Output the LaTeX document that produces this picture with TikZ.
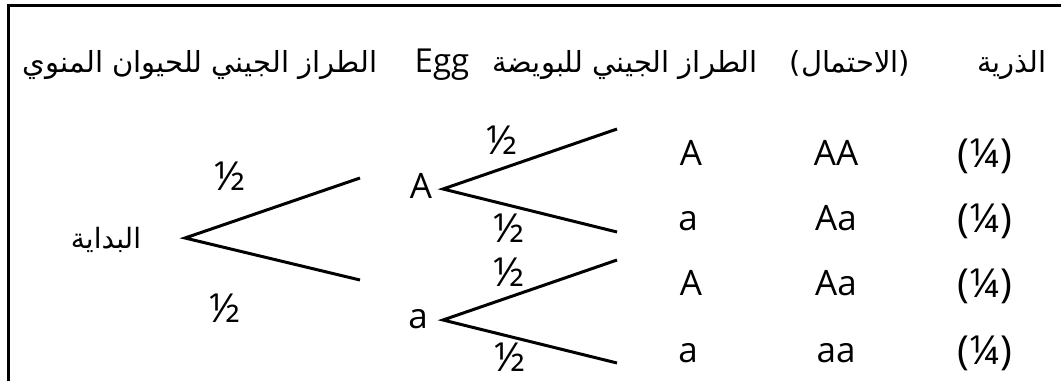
\documentclass[tikz,border=0pt]{standalone}
\usepackage{fontspec}
\setmainfont{Open Sans}
\newfontfamily\arabicfont[Script=Arabic]{DejaVu Sans}
\TeXXeTstate=1

\begin{document}
\begin{tikzpicture}[
    x=1pt, y=-1pt,
    frame/.style={line width=3pt},
    branch/.style={line width=3pt},
    head/.style={
        inner sep=0pt,
        anchor=base,
        font=\fontsize{29}{34}\selectfont\arabicfont
    },
    allele/.style={
        inner sep=0pt,
        anchor=base,
        font=\fontsize{35}{40}\selectfont
    },
    half/.style={
        inner sep=0pt,
        font=\fontsize{40}{46}\selectfont
    },
    ratio/.style={
        inner sep=0pt,
        anchor=base,
        font=\fontsize{40}{46}\selectfont
    }
]
\useasboundingbox (0,0) rectangle (1061,381);

% frame
\draw[frame] (8,381) -- (8,5.5) -- (1061,5.5);

% headers
\node[head] (hsperm) at (200,72) {\beginR الطراز الجيني للحيوان المنوي\endR};
\node[head, font=\fontsize{33}{38}\selectfont] (hegg) at (442,72) {Egg};
\node[head] (hegg2) at (625,72) {\beginR الطراز الجيني للبويضة\endR};
\node[head] (hprob) at (850,72) {(الاحتمال)};
\node[head] (hoff) at (1012,72) {الذرية};

% tree
\node[head, anchor=center, font=\fontsize{28}{32}\selectfont\arabicfont] (start) at (106,240) {البداية};
\node[allele] (A) at (421,198) {A};
\node[allele] (a) at (418,328) {a};

\coordinate (fork0) at (185,238);
\coordinate (end1) at (360,178);
\coordinate (end2) at (360,280);
\coordinate (forkA) at (443,189);
\coordinate (endAA) at (617,129);
\coordinate (endAa) at (617,232);
\coordinate (forka) at (443,320);
\coordinate (endaA) at (617,260);
\coordinate (endaa) at (617,363);

\draw[branch] (end1) -- (fork0) -- (end2);
\draw[branch] (endAA) -- (forkA) -- (endAa);
\draw[branch] (endaA) -- (forka) -- (endaa);

\node[half] (p1) at (230,176) {½};
\node[half] (p2) at (225,308) {½};
\node[half] (pAA) at (502,140) {½};
\node[half] (pAa) at (509,228) {½};
\node[half] (paA) at (509,272) {½};
\node[half] (paa) at (510,357) {½};

% results
\node[allele] (g1) at (691,165) {A};
\node[allele] (g2) at (688,230) {a};
\node[allele] (g3) at (691,295) {A};
\node[allele] (g4) at (688,362) {a};

\node[allele] (z1) at (836,165) {AA};
\node[allele] (z2) at (836,230) {Aa};
\node[allele] (z3) at (836,295) {Aa};
\node[allele] (z4) at (836,362) {aa};

\node[ratio] (q1) at (985,167) {(¼)};
\node[ratio] (q2) at (985,232) {(¼)};
\node[ratio] (q3) at (985,297) {(¼)};
\node[ratio] (q4) at (985,364) {(¼)};

\end{tikzpicture}
\end{document}
